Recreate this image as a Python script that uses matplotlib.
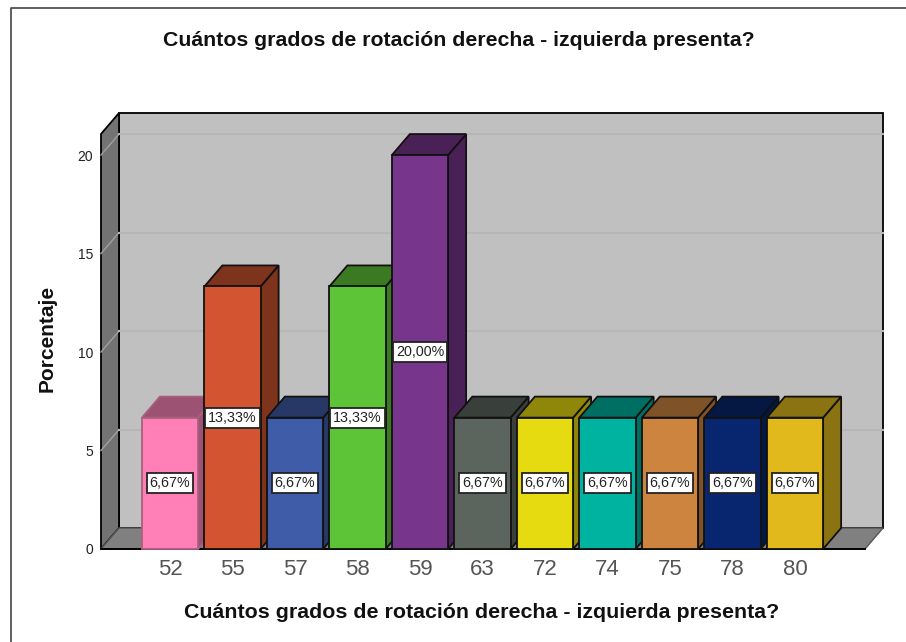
import matplotlib
matplotlib.use("Agg")
import matplotlib.pyplot as plt
from matplotlib.patches import Polygon, Rectangle

plt.rcParams['font.family'] = ['Liberation Sans', 'DejaVu Sans']

categories = ['52', '55', '57', '58', '59', '63', '72', '74', '75', '78', '80']
values = [6.67, 13.33, 6.67, 13.33, 20.0, 6.67, 6.67, 6.67, 6.67, 6.67, 6.67]
labels = ['6,67%', '13,33%', '6,67%', '13,33%', '20,00%', '6,67%', '6,67%',
          '6,67%', '6,67%', '6,67%', '6,67%']
front_colors = ['#ff7fb6', '#d25430', '#3f5ca8', '#5dc437', '#77358c', '#5c655d',
                '#e6da10', '#00b3a0', '#cc843f', '#08266f', '#e2b91d']
dark_colors = ['#9c5272', '#7e331d', '#273866', '#3b7a22', '#4a2157', '#393f3a',
               '#8f8709', '#006f63', '#7f5227', '#051844', '#8c7312']
y_ticks = [0, 5, 10, 15, 20]
title = 'Cuántos grados de rotación derecha - izquierda presenta?'

W, H = 906, 642
ax_l, ax_r, ax_t, ax_b = 101, 865, 134, 549   # front plane in pixels
step_px = 62.5
first_px = 170
y_top = 21.07
depth_x = 18 / step_px
depth_y = 21 / ((ax_b - ax_t) / y_top)
bar_w = 0.9

fig = plt.figure(figsize=(W / 100, H / 100), dpi=100)
fig.patch.set_facecolor('white')
ax = fig.add_axes([ax_l / W, 1 - ax_b / H, (ax_r - ax_l) / W, (ax_b - ax_t) / H])
ax.set_xlim((ax_l - first_px) / step_px, (ax_r - first_px) / step_px)
ax.set_ylim(0, y_top)
ax.patch.set_visible(False)
for s in ax.spines.values():
    s.set_visible(False)

x0, x1 = ax.get_xlim()
dx, dy = depth_x, depth_y

# back wall, side wall, floor
ax.add_patch(Polygon([(x0 + dx, dy), (x1 + dx, dy), (x1 + dx, y_top + dy), (x0 + dx, y_top + dy)],
                     fc='#c0c0c0', ec='black', lw=1.3, clip_on=False, zorder=1))
ax.add_patch(Polygon([(x0, 0), (x0 + dx, dy), (x0 + dx, y_top + dy), (x0, y_top)],
                     fc='#737373', ec='black', lw=1.3, clip_on=False, zorder=1.1))
ax.add_patch(Polygon([(x0, 0), (x1, 0), (x1 + dx, dy), (x0 + dx, dy)],
                     fc='#808080', ec='#555555', lw=1.0, clip_on=False, zorder=1.1))

# gridlines run along the side wall and across the back
for t in y_ticks[1:]:
    ax.plot([x0, x0 + dx], [t, t + dy], color='#a0a0a0', lw=1.0, clip_on=False, zorder=2)
    ax.plot([x0 + dx, x1 + dx], [t + dy, t + dy], color='#b6b6b6', lw=1.5, clip_on=False, zorder=2)

# bars
for i, (v, lab) in enumerate(zip(values, labels)):
    l, r = i - bar_w / 2, i + bar_w / 2
    z = 3 + i * 0.01
    edge = '#a8607f' if i == 0 else '#111111'   # first bar has no black outline
    ax.add_patch(Polygon([(r, 0), (r + dx, dy), (r + dx, v + dy), (r, v)],
                         fc=dark_colors[i], ec=edge, lw=1.3, clip_on=False, zorder=z))
    ax.add_patch(Polygon([(l, v), (r, v), (r + dx, v + dy), (l + dx, v + dy)],
                         fc=dark_colors[i], ec=edge, lw=1.3, clip_on=False, zorder=z))
    ax.add_patch(Rectangle((l, 0), bar_w, v, fc=front_colors[i], ec=edge, lw=1.3,
                           clip_on=False, zorder=z))
    ax.text(i, v / 2, lab, ha='center', va='center', fontsize=10.3, color='#222222', zorder=6,
            bbox=dict(boxstyle='square,pad=0.22', fc='white', ec='#222222', lw=1.3))

ax.plot([x0, x1], [0, 0], color='black', lw=1.4, clip_on=False, zorder=2.5)

ax.set_xticks(range(len(categories)))
ax.set_xticklabels(categories, fontsize=16, color='#555555')
ax.set_yticks(y_ticks)
ax.set_yticklabels([str(t) for t in y_ticks], fontsize=10, color='#222222')
ax.tick_params(axis='both', length=0)
ax.tick_params(axis='x', pad=7.5)
ax.tick_params(axis='y', pad=5.5)

fig.text(459 / W, 1 - 40 / H, title, ha='center', va='center', fontsize=15.3, fontweight='bold',
         color='#111111')
fig.text(482 / W, 1 - 612.5 / H, title, ha='center', va='center', fontsize=15.4, fontweight='bold',
         color='#111111')
fig.text(47.5 / W, 1 - 338 / H, 'Porcentaje', ha='center', va='center', rotation=90, fontsize=15,
         fontweight='bold', color='#111111')

# outer frame
fig.add_artist(plt.Line2D([11 / W, 11 / W, 1], [0, 1 - 8 / H, 1 - 8 / H], color='#444444', lw=1.2))

fig.savefig('out.png', dpi=100)
